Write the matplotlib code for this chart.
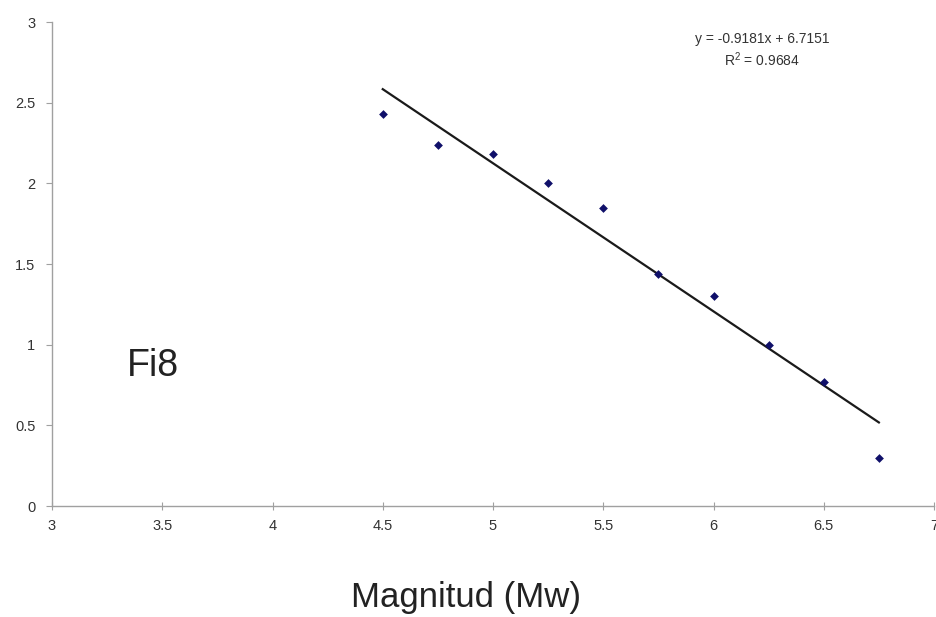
import matplotlib
matplotlib.use("Agg")
import matplotlib.pyplot as plt
import numpy as np

plt.rcParams['font.family'] = ['Liberation Sans', 'DejaVu Sans']

# Data
magnitude = [4.5, 4.75, 5.0, 5.25, 5.5, 5.75, 6.0, 6.25, 6.5, 6.75]
log_n = [2.43, 2.24, 2.18, 2.0, 1.85, 1.44, 1.30, 1.0, 0.77, 0.30]
slope = -0.9181
intercept = 6.7151
r2 = 0.9684
x_ticks = [3, 3.5, 4, 4.5, 5, 5.5, 6, 6.5, 7]
y_ticks = [0, 0.5, 1, 1.5, 2, 2.5, 3]
panel_label = "Fi8"
x_label = "Magnitud (Mw)"

fig = plt.figure(figsize=(9.36, 6.17), dpi=100)
ax = fig.add_axes([52/936, 111/617, (934-52)/936, (506-22)/617])

ax.scatter(magnitude, log_n, marker='D', s=20, color='#10106a', zorder=3, linewidths=0)
xl = np.array([magnitude[0], magnitude[-1]])
ax.plot(xl, slope*xl + intercept, color='#1a1a1a', lw=1.6, zorder=2)

ax.set_xlim(3, 7)
ax.set_ylim(0, 3)
ax.set_xticks(x_ticks)
ax.set_yticks(y_ticks)
ax.set_xticklabels([f"{t:g}" for t in x_ticks])
ax.set_yticklabels([f"{t:g}" for t in y_ticks])

for s in ['top', 'right']:
    ax.spines[s].set_visible(False)
for s in ['left', 'bottom']:
    ax.spines[s].set_color('#a0a0a0')
    ax.spines[s].set_linewidth(1.0)
ax.tick_params(axis='x', direction='inout', length=6, color='#a0a0a0', labelsize=10.5,
               labelcolor='#333333', pad=6)
ax.tick_params(axis='y', direction='out', length=4, color='#a0a0a0', labelsize=10.5,
               labelcolor='#333333', pad=8)

ax.text(0.805, 0.98, f"y = {slope:.4f}x + {intercept:.4f}\n$\\mathregular{{R^2}}$ = {r2:.4f}",
        transform=ax.transAxes, ha='center', va='top', fontsize=10, color='#333333',
        linespacing=1.3)

fig.text(153/936, 1 - 366/617, panel_label, fontsize=27, ha='center', va='center', color='#222222')
fig.text(466/936, 1 - 598/617, x_label, fontsize=25, ha='center', va='center', color='#222222')

fig.savefig("out.png", dpi=100)
